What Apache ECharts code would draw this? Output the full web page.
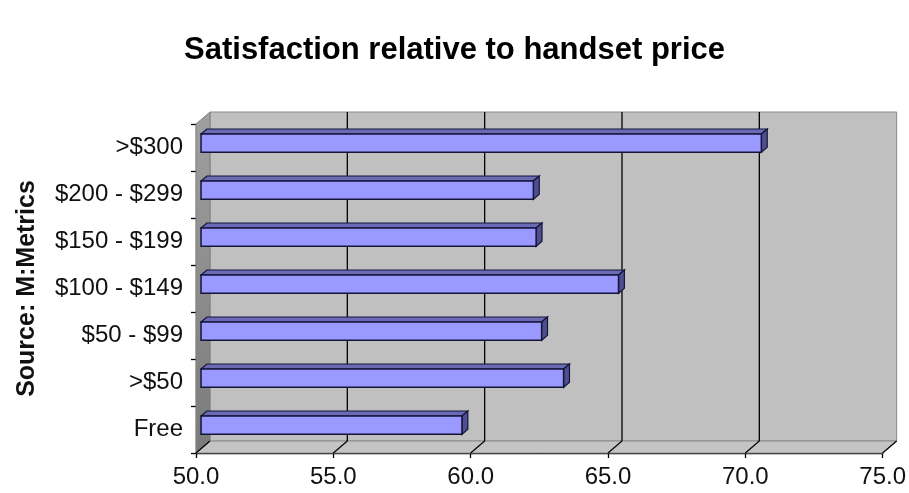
<!DOCTYPE html>
<html>
<head>
<meta charset="utf-8">
<script src="https://cdn.jsdelivr.net/npm/echarts@6/dist/echarts.min.js"></script>
<style>
  html, body { margin: 0; padding: 0; background: #ffffff; }
  #chart { width: 909px; height: 493px; }
</style>
</head>
<body>
<div id="chart"></div>
<script>
// ---- data ----
const titleText = 'Satisfaction relative to handset price';
const sourceText = 'Source: M:Metrics';
const categories = ['Free', '>$50', '$50 - $99', '$100 - $149', '$150 - $199', '$200 - $299', '>$300'];
const satisfaction = [59.5, 63.2, 62.4, 65.2, 62.2, 62.1, 70.4];
const xTicks = [50, 55, 60, 65, 70, 75];

// ---- 3D look (style only) ----
const DX = 14, DY = -12;          // depth offset of back wall
const F1 = 0.36, F2 = 0.78;       // bar front / back depth fractions
const BAR_FRAC = 0.39;            // bar thickness as share of band

const chart = echarts.init(document.getElementById('chart'), null, { renderer: 'canvas' });

function wallsRender(params, api) {
  const cs = params.coordSys;
  const L = cs.x, T = cs.y, R = cs.x + cs.width, B = cs.y + cs.height;
  const children = [];
  // back wall
  children.push({ type: 'polygon', shape: { points: [[L + DX, T + DY], [R + DX, T + DY], [R + DX, B + DY], [L + DX, B + DY]] },
    style: { fill: '#c0c0c0', stroke: '#8a8a8a', lineWidth: 1 } });
  // left side wall
  children.push({ type: 'polygon', shape: { points: [[L, T], [L + DX, T + DY], [L + DX, B + DY], [L, B]] },
    style: { fill: new echarts.graphic.LinearGradient(0, 0, 0, 1, [{ offset: 0, color: '#a0a0a0' }, { offset: 1, color: '#7a7a7a' }]), stroke: '#808080', lineWidth: 1 } });
  // floor
  children.push({ type: 'polygon', shape: { points: [[L, B], [R, B], [R + DX, B + DY], [L + DX, B + DY]] },
    style: { fill: '#c4c4c4', stroke: '#8a8a8a', lineWidth: 1 } });
  // grid lines on back wall and floor
  xTicks.forEach(function (t) {
    const x = api.coord([t, 0])[0];
    if (t !== xTicks[0] && t !== xTicks[xTicks.length - 1]) {
      children.push({ type: 'line', shape: { x1: x + DX, y1: T + DY, x2: x + DX, y2: B + DY },
        style: { stroke: '#000000', lineWidth: 1.3 } });
    }
    children.push({ type: 'line', shape: { x1: x, y1: B, x2: x + DX, y2: B + DY },
      style: { stroke: '#000000', lineWidth: 1.2 } });
  });
  return { type: 'group', children: children };
}

function barRender(params, api) {
  const v = api.value(0), c = api.value(1);
  const cs = params.coordSys;
  const p0 = api.coord([xTicks[0], c]);
  const p1 = api.coord([v, c]);
  const band = api.size([0, 1])[1];
  const h = band * BAR_FRAC;
  const x0 = cs.x, x1 = p1[0], yc = p0[1];
  const fx = DX * F1, fy = DY * F1, bx = DX * F2, by = DY * F2;
  const top = yc - h / 2, bot = yc + h / 2;
  const stroke = '#15153a';
  return {
    type: 'group',
    children: [
      { type: 'polygon', shape: { points: [[x0 + fx, top + fy], [x1 + fx, top + fy], [x1 + bx, top + by], [x0 + bx, top + by]] },
        style: { fill: '#6b6bb5', stroke: stroke, lineWidth: 1.2 } },
      { type: 'polygon', shape: { points: [[x1 + fx, top + fy], [x1 + bx, top + by], [x1 + bx, bot + by], [x1 + fx, bot + fy]] },
        style: { fill: '#4f4f8f', stroke: stroke, lineWidth: 1.2 } },
      { type: 'rect', shape: { x: x0 + fx, y: top + fy, width: x1 - x0, height: h },
        style: { fill: '#9999ff', stroke: stroke, lineWidth: 1.5 } }
    ]
  };
}

chart.setOption({
  animation: false,
  backgroundColor: '#ffffff',
  title: {
    text: titleText,
    left: 'center',
    top: 30,
    textStyle: { fontFamily: 'Liberation Sans, Arial, sans-serif', fontWeight: 'bold', fontSize: 31, color: '#000000' }
  },
  grid: { left: 196, right: 26, top: 124, bottom: 40, containLabel: false },
  xAxis: {
    type: 'value',
    min: 50, max: 75, interval: 5,
    axisLine: { show: true, lineStyle: { color: '#000000', width: 1.3 } },
    axisTick: { show: true, length: 5, lineStyle: { color: '#000000', width: 1.3 } },
    splitLine: { show: false },
    axisLabel: {
      margin: 12,
      fontFamily: 'Liberation Sans, Arial, sans-serif', fontSize: 24, color: '#111111',
      formatter: function (val) { return val.toFixed(1); }
    }
  },
  yAxis: {
    type: 'category',
    data: categories,
    name: sourceText,
    nameLocation: 'middle',
    nameGap: 156,
    nameTextStyle: { fontFamily: 'Liberation Sans, Arial, sans-serif', fontWeight: 'bold', fontSize: 25, color: '#111111' },
    axisLine: { show: true, lineStyle: { color: '#000000', width: 1.3 } },
    axisTick: { show: true, length: 5, lineStyle: { color: '#000000', width: 1.3 } },
    splitLine: { show: false },
    axisLabel: { margin: 13, fontFamily: 'Liberation Sans, Arial, sans-serif', fontSize: 24, color: '#111111' }
  },
  series: [
    {
      type: 'custom', name: 'walls', z: 1, silent: true,
      renderItem: wallsRender,
      data: [[xTicks[0], 0]],
      encode: { x: 0, y: 1 }
    },
    {
      type: 'custom', name: 'Satisfaction', z: 3,
      renderItem: barRender,
      data: satisfaction.map(function (v, i) { return [v, i]; }),
      encode: { x: 0, y: 1 }
    }
  ]
});
</script>
</body>
</html>
